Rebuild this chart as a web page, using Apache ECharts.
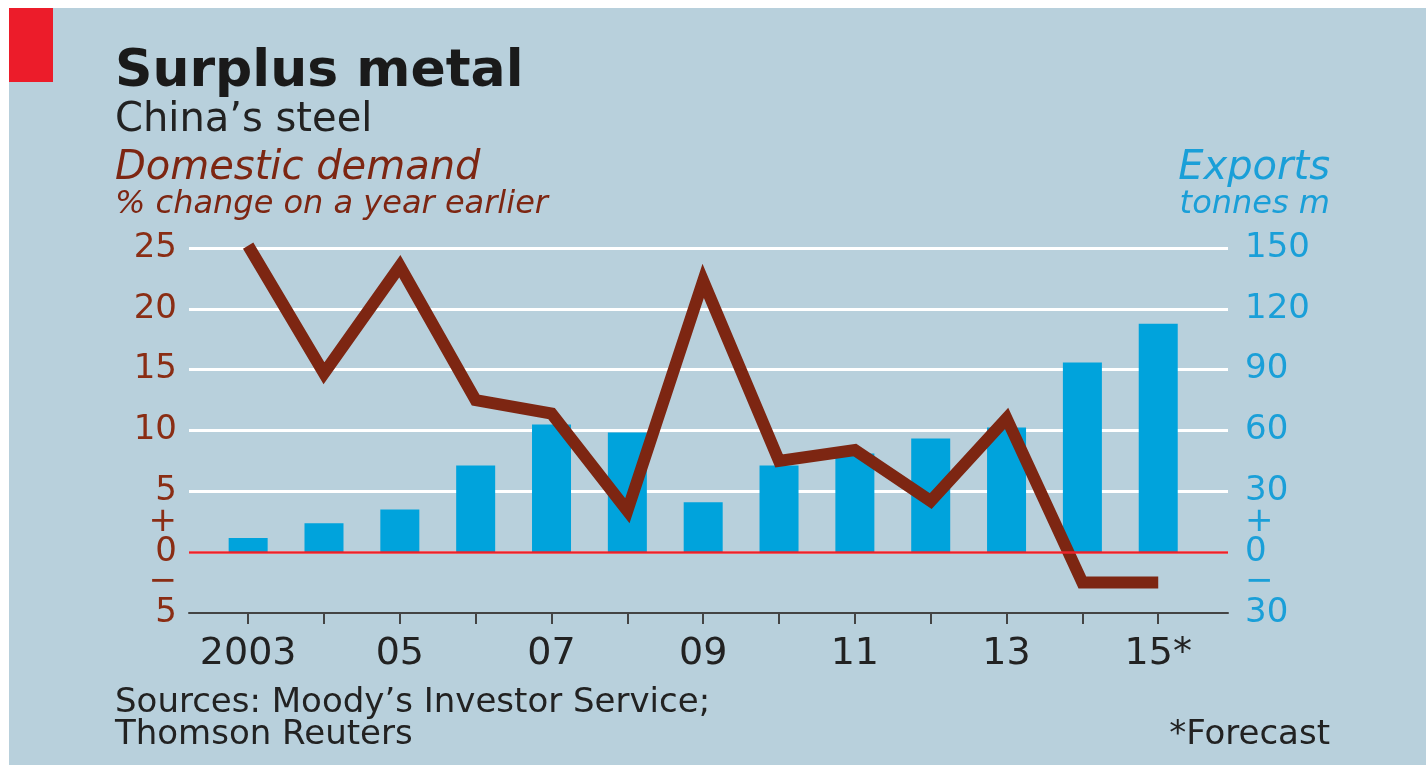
<!DOCTYPE html>
<html>
<head>
<meta charset="utf-8">
<title>Surplus metal</title>
<script src="https://cdn.jsdelivr.net/npm/echarts@6/dist/echarts.min.js"></script>
<style>
  html, body { margin: 0; padding: 0; background: #fff; }
  #main { position: absolute; left: 9px; top: 8px; width: 1417px; height: 757px; }
</style>
</head>
<body>
<div id="main"></div>
<script>
// China's steel: domestic demand (% change) and exports (tonnes m)
var years = [2003, 2004, 2005, 2006, 2007, 2008, 2009, 2010, 2011, 2012, 2013, 2014, 2015];
var demand = [25.2, 14.7, 23.5, 12.5, 11.4, 3.4, 22.3, 7.5, 8.4, 4.2, 11.0, -2.5, -2.5];
var exportsT = [7, 14.3, 21, 42.8, 63, 59, 24.6, 42.8, 48.7, 56, 61.5, 93.5, 112.6];
var labelYears = [2003, 2005, 2007, 2009, 2011, 2013, 2015];

var font = 'DejaVu Sans';
var brown = '#7d2612';
var labelBrown = '#8a2d14';
var blue = '#1a9fd8';

var myChart = echarts.init(document.getElementById('main'));

// the minus sign sits above the bottom label, so the number itself is unsigned
function absLabel(v) {
  return String(Math.abs(v));
}
// extra label-only axis: "+" and "−" half-way between zero and its neighbours
function signAxis(pos, min, max, half, color, margin) {
  return {
    type: 'value',
    position: pos,
    min: min,
    max: max,
    interval: half,
    axisLine: { show: false },
    axisTick: { show: false },
    splitLine: { show: false },
    axisLabel: {
      margin: margin,
      fontSize: 34,
      color: color,
      formatter: function (v) {
        if (v === half) return '+';
        if (v === -half) return '\u2212';
        return '';
      }
    }
  };
}

var option = {
  backgroundColor: '#b8d0dc',
  animation: false,
  textStyle: { fontFamily: font },
  graphic: [
    { type: 'rect', shape: { x: 0, y: 0, width: 44, height: 74 }, style: { fill: '#ec1c2a' } },
    { type: 'text', x: 106, y: 64, style: { text: 'Surplus metal', font: 'bold 52px ' + font, fill: '#1a1a1a', textVerticalAlign: 'middle' } },
    { type: 'text', x: 106, y: 113, style: { text: 'China\u2019s steel', font: '40px ' + font, fill: '#222', textVerticalAlign: 'middle' } },
    { type: 'text', x: 106, y: 161, style: { text: 'Domestic demand', font: 'italic 40px ' + font, fill: brown, textVerticalAlign: 'middle' } },
    { type: 'text', x: 106, y: 197, style: { text: '% change on a year earlier', font: 'italic 32px ' + font, fill: brown, textVerticalAlign: 'middle' } },
    { type: 'text', x: 1321, y: 161, style: { text: 'Exports', font: 'italic 40px ' + font, fill: blue, textAlign: 'right', textVerticalAlign: 'middle' } },
    { type: 'text', x: 1321, y: 197, style: { text: 'tonnes m', font: 'italic 32px ' + font, fill: blue, textAlign: 'right', textVerticalAlign: 'middle' } },
    { type: 'text', x: 106, y: 695, style: { text: 'Sources: Moody\u2019s Investor Service;', font: '34px ' + font, fill: '#222', textVerticalAlign: 'middle' } },
    { type: 'text', x: 106, y: 727, style: { text: 'Thomson Reuters', font: '34px ' + font, fill: '#222', textVerticalAlign: 'middle' } },
    { type: 'text', x: 1321, y: 727, style: { text: '*Forecast', font: '34px ' + font, fill: '#222', textAlign: 'right', textVerticalAlign: 'middle' } }
  ],
  grid: {
    left: 180,
    right: 198,
    top: 240,
    bottom: 152
  },
  xAxis: {
    type: 'value',
    min: 2002.22,
    max: 2015.92,
    splitLine: { show: false },
    axisLine: { show: true, onZero: false, lineStyle: { color: '#444', width: 2 } },
    axisTick: { show: true, length: 11, customValues: years, lineStyle: { color: '#444', width: 2 } },
    axisLabel: {
      customValues: labelYears,
      margin: 22,
      fontSize: 38,
      color: '#222',
      formatter: function (v) {
        if (v === 2003) return '2003';
        var s = String(v).slice(2);
        return v === 2015 ? s + '*' : s;
      }
    }
  },
  yAxis: [
    {
      type: 'value',
      min: -5,
      max: 25,
      interval: 5,
      axisLine: { show: false },
      axisTick: { show: false },
      splitLine: {
        show: true,
        showMinLine: false,
        lineStyle: { color: '#fff', width: 3 }
      },
      axisLabel: {
        showMinLabel: true,
        showMaxLabel: true,
        margin: 12,
        fontSize: 34,
        color: labelBrown,
        formatter: absLabel
      }
    },
    {
      type: 'value',
      min: -30,
      max: 150,
      interval: 30,
      position: 'right',
      axisLine: { show: false },
      axisTick: { show: false },
      splitLine: { show: false },
      axisLabel: {
        showMinLabel: true,
        showMaxLabel: true,
        margin: 17,
        fontSize: 34,
        color: blue,
        formatter: absLabel
      }
    },
    signAxis('left', -5, 25, 2.5, labelBrown, 12),
    signAxis('right', -30, 150, 15, blue, 17)
  ],
  series: [
    {
      name: 'Exports',
      type: 'bar',
      yAxisIndex: 1,
      barWidth: 39,
      itemStyle: { color: '#00a3dc' },
      data: years.map(function (y, i) { return [y, exportsT[i]]; }),
      markLine: {
        silent: true,
        symbol: 'none',
        label: { show: false },
        lineStyle: { color: '#e8232b', width: 2.5, type: 'solid' },
        data: [{ yAxis: 0 }]
      },
      z: 2
    },
    {
      name: 'Domestic demand',
      type: 'line',
      yAxisIndex: 0,
      symbol: 'none',
      lineStyle: { color: brown, width: 12, cap: 'butt', join: 'miter' },
      data: years.map(function (y, i) { return [y, demand[i]]; }),
      z: 3
    }
  ]
};

myChart.setOption(option);
</script>
</body>
</html>
